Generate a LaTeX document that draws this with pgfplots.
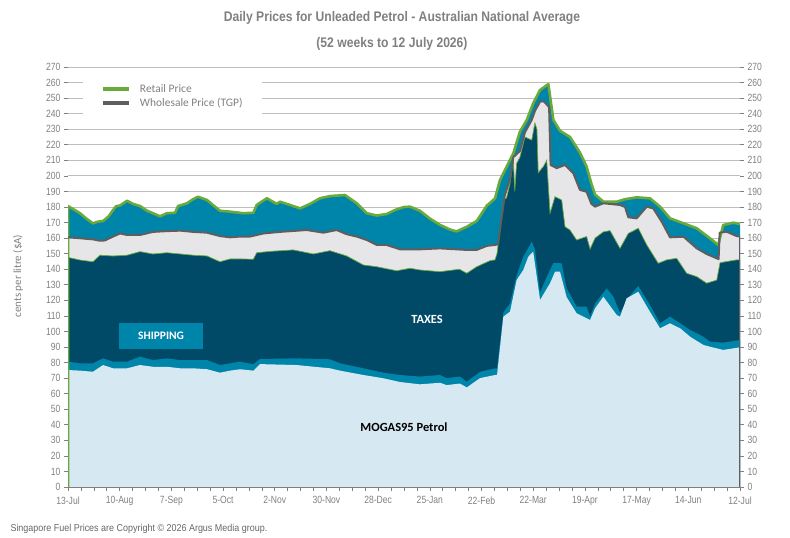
\documentclass[border=0pt]{standalone}
\usepackage{pgfplots}
\pgfplotsset{compat=1.18}
\usepackage{pgfplotstable}
\usepackage{fontspec}
\setmainfont{Liberation Sans}
\newfontfamily\narrowfont{Liberation Sans}[FakeStretch=0.82]
\newfontfamily\titlefont{Liberation Sans}[FakeStretch=0.87]
\newfontfamily\footfont{Liberation Sans}[FakeStretch=0.9]
\newfontfamily\labelfont{Carlito}

\definecolor{mogas}{HTML}{D6E8F1}
\definecolor{ship}{HTML}{0085AA}
\definecolor{tax}{HTML}{004A67}
\definecolor{whole}{HTML}{E6E6E8}
\definecolor{retail}{HTML}{6AAA3A}
\definecolor{tgp}{HTML}{5E5E5E}
\definecolor{gridgray}{HTML}{BEBEBE}
\definecolor{txtgray}{HTML}{808080}
\definecolor{footgray}{HTML}{666666}

% day 0 = 13 Jul, cents per litre
\pgfplotstableread{
d v
0 0
0 180.6
3 178.5
6.5 176
10 172.5
13.5 169.5
16 170.5
19 171
22 174
24.4 178
26 180.5
28.2 181
32 184
35.2 182
39 180.6
42.8 177.6
46 176
49.8 174
53.6 176
58 176.3
59.6 180.6
64.5 182.4
67.7 185
70.4 186.6
75.3 184.5
78.5 181.3
82.3 177.6
87.8 177
95 176
100.4 176.3
102.2 181.3
107.7 185.6
113 182
114.8 183.4
120.3 181.3
125.7 179.1
131.1 182
136.5 185.6
141.9 187
150 187.7
156.4 182.4
161.8 176
167.2 174.5
172.6 175.5
178 178.5
182 180
185.3 180.2
190.7 177.5
196.1 172.5
201.5 168.5
206.9 165.5
210.5 164.3
216 167.3
221.4 171
226.8 180.8
231.3 185.5
234 197.4
237.6 205.9
241.2 214.5
244.8 228.4
248.5 235.9
252 246.7
255.7 255.2
260.2 259
262.9 236
266.5 229
271.9 225
277.3 215
280.9 206
283.5 195
285.5 188
290 183.4
297.2 183.4
301.7 185
308 186.2
315.2 185.6
320.7 180.2
326.1 172.7
333.4 169.5
340.6 166.3
347.7 159.9
352.2 155.6
354.9 168.4
360.4 169.9
364 169
}\retail

\pgfplotstableread{
d v
0 160.5
6.5 159.9
13.5 159.2
17.3 158.3
20 158.5
24.4 161
28.2 163
32 162
39 162
46 164
53.6 164.5
61 164.8
67.7 164
75.3 163.5
82.3 161.3
87.8 160.5
93.2 161
98.6 161
105.9 163
114.8 164
129.3 165.2
138.3 163.5
145.5 165.2
151 162.5
156.4 161
161.8 158.8
167.2 155.6
172.6 155.6
179.8 152.8
190.7 152.8
201.5 153.4
216 152.4
221.4 152.4
226.8 155
231.3 155.6
233 156
234.5 170
236.5 187
239.4 198
241.2 212
244.8 216
247.5 228
251.2 236
253 242
255.7 247.7
257.5 248
259.3 246
260.6 244
261.4 207
264.7 205
269.2 207
273.7 201.7
277.3 191
280.9 189.8
283.5 182
285.5 180.2
290 182.4
299 181.3
301.7 180
303.5 173.4
308 172.7
313.5 180.2
317 179.1
321.6 170.5
326.1 160.5
333.4 160.9
340.6 153.4
345.9 149.8
351.4 147
352.4 146.5
353 163.5
356.8 164.1
362.2 161.3
364 161
364 0
}\wholesale

\pgfplotstableread{
d v
0 147.6
6.5 145.9
13.5 144.8
17.3 149
24.4 148.5
32 149
39 151.3
46 149.8
53.6 150.6
60.7 149.8
67.7 149
75.3 148.5
80 146
82.3 144.8
87.8 146.6
93.2 146.6
100.4 146.4
102.2 150.6
110 151.5
122 152.4
132.9 149.8
141.9 151.9
151 148.5
160 142.7
167.2 141.6
178 139
185.3 140.6
190.7 139.5
201.5 138.4
212 140
216 137.4
221.4 141.6
228.6 145.5
231.3 146
232.4 150
235.8 184
237.6 186
239.4 195
241.2 210
242 190
243 208
244.8 212
247.5 225
251.2 223
252.9 234
254 230
254.7 202
257.5 206
259.3 210
261.1 176
263.8 186.6
267.4 184.5
269.2 167.3
271.9 165.2
275.5 158.8
280.9 161
282.8 153
285.5 160
290 164
293.6 164.8
299 153.4
303.5 163
308.9 166.3
313.5 155.6
319.7 143.8
324.3 146
329.7 147
335.1 137.4
340.6 135.2
345.9 131
351.4 133
353.2 144.2
362.2 146
364 146
}\taxes

\pgfplotstableread{
d v
0 80.6
6.5 79.5
13.5 79.5
19 82.7
24.4 80.6
32 80.6
39 83.8
46 81.6
53.6 82.7
60.7 81.6
67.7 81.6
75.3 81.6
82.3 78.4
87.8 79.5
93.2 80.6
100.4 78.9
104 82.3
123.9 82.7
141.9 82.1
147.3 79.5
160 76.3
170.8 73.5
179.8 72
190.7 71
201.5 72
205.1 70
212.3 71
216 67.7
223.2 74
231.3 76.3
232.4 76.3
235.8 112
239.4 118
243 136
246.6 148
251.2 157.7
252.9 153
255.7 125
259.3 135
262.9 144
267.4 143.8
270.1 127.7
275.5 116
280.9 116
282.8 109.5
285.5 118
291.8 127.7
295.4 122.3
299 112
304.4 123
308.9 129.2
315.2 117
320.7 105.2
326.1 109.5
331.6 105.2
337 100.9
344.2 96.6
347.7 93.4
354.9 92.8
364 94.5
}\shipping

\pgfplotstableread{
d v
0 75.2
6.5 74.8
13.5 74.1
19 78.4
24.4 76.3
32 76.3
39 78.4
46 77.3
53.6 77.3
60.7 76.3
67.7 76.3
75.3 75.7
82.3 73.5
87.8 74.8
93.2 75.7
100.4 74.8
104 79
123.9 78.4
141.9 76.3
147.3 74.8
160 72
170.8 69.9
179.8 67.5
190.7 66
201.5 67
205.1 65.5
212.3 66.5
216 64
223.2 70
231.3 72
232.4 72
235.8 109.5
239.4 112.7
243 133
246.6 139.5
249.3 148
252 151.3
255.7 120.2
261.1 131
263.8 138.4
266.5 138.4
270.1 122
275.5 111.7
280.9 108.5
282.8 107.4
285.5 114.9
290 122.3
297.2 110.6
299 109.5
302.6 121.3
308.9 125.5
315.2 112.7
320.7 102
326.1 105.2
331.6 102
337 96.6
344.2 91.3
347.7 90.2
354.9 88.1
364 89.8
}\mogas

\pgfplotsset{
  priceaxis/.style={
    at={(68bp,51bp)}, anchor=south west,
    scale only axis, width=672bp, height=420bp,
    xmin=0, xmax=364, ymin=0, ymax=270,
    ytick={0,10,...,270},
    /pgf/number format/assume math mode=true,
    yticklabel style={font=\narrowfont\fontsize{10.5}{12}\selectfont, text=txtgray},
    tick align=outside,
    major tick length=4bp, minor tick length=4bp,
    tick style={txtgray, line width=0.6bp},
    y axis line style={draw=none},
  },
}

\begin{document}
\begin{tikzpicture}
\useasboundingbox (0,0) rectangle (790bp,538bp);

\begin{axis}[priceaxis,
  axis x line*=bottom, axis y line*=left,
  x axis line style={-, txtgray, line width=0.8bp},
  xtick={0,28,...,364},
  minor x tick num=3,
  xticklabels={13-Jul,10-Aug,7-Sep,5-Oct,2-Nov,30-Nov,28-Dec,25-Jan,22-Feb,22-Mar,19-Apr,17-May,14-Jun,12-Jul},
  xticklabel style={font=\narrowfont\fontsize{10.5}{12}\selectfont, text=txtgray, yshift=-2bp},
  ymajorgrids, grid style={gridgray, line width=0.8bp},
  legend style={at={(0.022,0.976)}, anchor=north west, draw=none, fill=white,
    inner xsep=18bp, inner ysep=5bp, row sep=0bp,
    font=\labelfont\fontsize{11.5}{13}\selectfont, text=txtgray,
    nodes={text height=8.5bp, text depth=2.5bp, inner ysep=1.5bp},
    /tikz/every odd column/.append style={column sep=7bp}},
  legend cell align=left,
  legend image code/.code={\draw[#1, line width=4bp] (0bp,0bp) -- (26bp,0bp);},
]
% stacked layers, top to bottom
\addplot[fill=ship, draw=none, forget plot] table[x=d, y=v] {\retail} \closedcycle;
\addplot[fill=whole, draw=none, forget plot] table[x=d, y=v] {\wholesale} \closedcycle;
\addplot[fill=tax, draw=none, forget plot] table[x=d, y=v] {\taxes} \closedcycle;
\addplot[retail, line width=0.7bp, forget plot] table[x=d, y=v] {\taxes};
\addplot[fill=ship, draw=none, forget plot] table[x=d, y=v] {\shipping} \closedcycle;
\addplot[fill=mogas, draw=none, forget plot] table[x=d, y=v] {\mogas} \closedcycle;
% price lines
\addplot[retail, line width=2.6bp, line join=round] table[x=d, y=v] {\retail};
\addlegendentry{Retail Price}
\addplot[tgp, line width=2bp, line join=round] table[x=d, y=v] {\wholesale};
\addlegendentry{Wholesale Price (TGP)}

\node[fill=ship, text=white, font=\labelfont\bfseries\fontsize{11.5}{13}\selectfont,
  minimum width=84bp, minimum height=26bp, inner sep=0pt] at (axis cs:50.4,97) {SHIPPING};
\node[text=white, font=\labelfont\bfseries\fontsize{12.5}{14}\selectfont] at (axis cs:194.5,107.4) {TAXES};
\node[text=black, font=\labelfont\bfseries\fontsize{12.5}{14}\selectfont] at (axis cs:182,38.6) {MOGAS95 Petrol};
\end{axis}

% right-hand scale
\begin{axis}[priceaxis, axis x line=none, axis y line*=right]
\end{axis}

\node[font=\titlefont\bfseries\fontsize{14}{16}\selectfont, text=txtgray] at (402bp,520bp)
  {Daily Prices for Unleaded Petrol - Australian National Average};
\node[font=\titlefont\bfseries\fontsize{14}{16}\selectfont, text=txtgray] at (392bp,494bp)
  {(52 weeks to 12 July 2026)};
\node[rotate=90, font=\labelfont\fontsize{11}{13}\selectfont, text=txtgray] at (18bp,262bp)
  {cents per litre (\$A)};
\node[anchor=west, font=\footfont\fontsize{10}{12}\selectfont, text=footgray] at (7bp,9bp)
  {Singapore Fuel Prices are Copyright \textcopyright{} 2026 Argus Media group.};
\end{tikzpicture}
\end{document}
